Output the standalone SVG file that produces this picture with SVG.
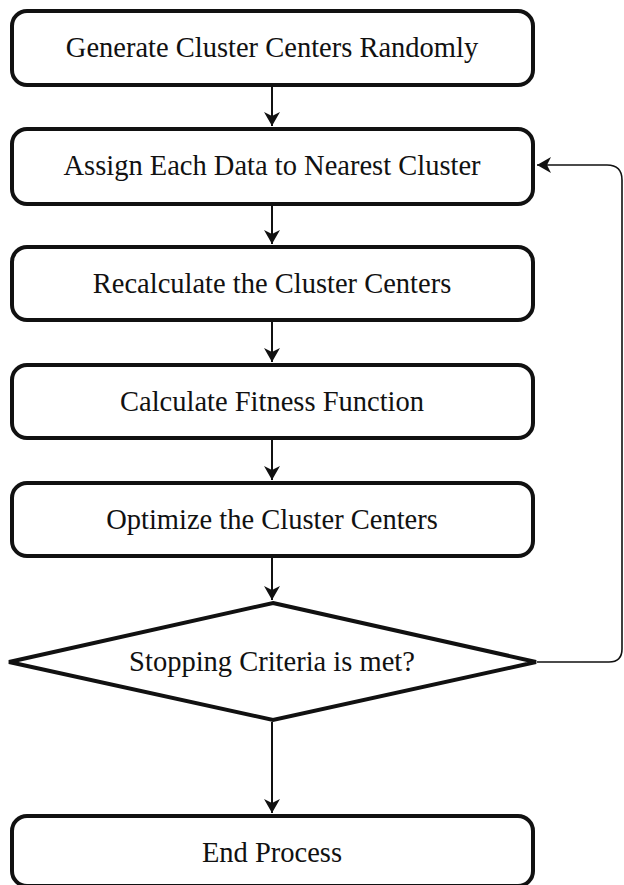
<svg xmlns="http://www.w3.org/2000/svg" width="624" height="885" viewBox="0 0 624 885">
<style>
.box{fill:#fff;stroke:#111;stroke-width:4}
.t{font-size:28.5px;fill:#111;text-anchor:middle}
.c{fill:none;stroke:#111;stroke-width:2}
.fb{fill:none;stroke:#111;stroke-width:1.6}
</style>
<defs>
<marker id="ah" markerWidth="14" markerHeight="16" refX="14" refY="8" orient="auto" markerUnits="userSpaceOnUse">
<path d="M0,0 L14,8 L0,16 L4,8 Z" fill="#111"/>
</marker>
</defs>
<rect width="624" height="885" fill="#fff"/>
<g id="connectors">
<line class="c" x1="272" y1="86" x2="272" y2="126" marker-end="url(#ah)"/>
<line class="c" x1="272" y1="206" x2="272" y2="244" marker-end="url(#ah)"/>
<line class="c" x1="272" y1="322" x2="272" y2="362" marker-end="url(#ah)"/>
<line class="c" x1="272" y1="440" x2="272" y2="480" marker-end="url(#ah)"/>
<line class="c" x1="272" y1="558" x2="272" y2="600" marker-end="url(#ah)"/>
<line class="c" x1="272" y1="722" x2="272" y2="813" marker-end="url(#ah)"/>
<path class="fb" d="M537,662 H609 Q622,662 622,649 V180 Q622,165 607,165 H537" marker-end="url(#ah)"/>
</g>
<g font-family="Liberation Serif, Times New Roman, serif">
<g id="n1"><rect class="box" x="12" y="11" width="521" height="74" rx="15"/><text class="t" x="272" y="57">Generate Cluster Centers Randomly</text></g>
<g id="n2"><rect class="box" x="12" y="129" width="521" height="75" rx="15"/><text class="t" x="272" y="175">Assign Each Data to Nearest Cluster</text></g>
<g id="n3"><rect class="box" x="12" y="247" width="521" height="73" rx="15"/><text class="t" x="272" y="293">Recalculate the Cluster Centers</text></g>
<g id="n4"><rect class="box" x="12" y="365" width="521" height="73" rx="15"/><text class="t" x="272" y="411">Calculate Fitness Function</text></g>
<g id="n5"><rect class="box" x="12" y="483" width="521" height="73" rx="15"/><text class="t" x="272" y="529">Optimize the Cluster Centers</text></g>
<g id="d1"><polygon class="box" points="273,603 536,662 273,720 9,662"/><text class="t" x="272" y="671">Stopping Criteria is met?</text></g>
<g id="n6"><rect class="box" x="12" y="816" width="521" height="70" rx="15"/><text class="t" x="272" y="862">End Process</text></g>
</g>
</svg>
